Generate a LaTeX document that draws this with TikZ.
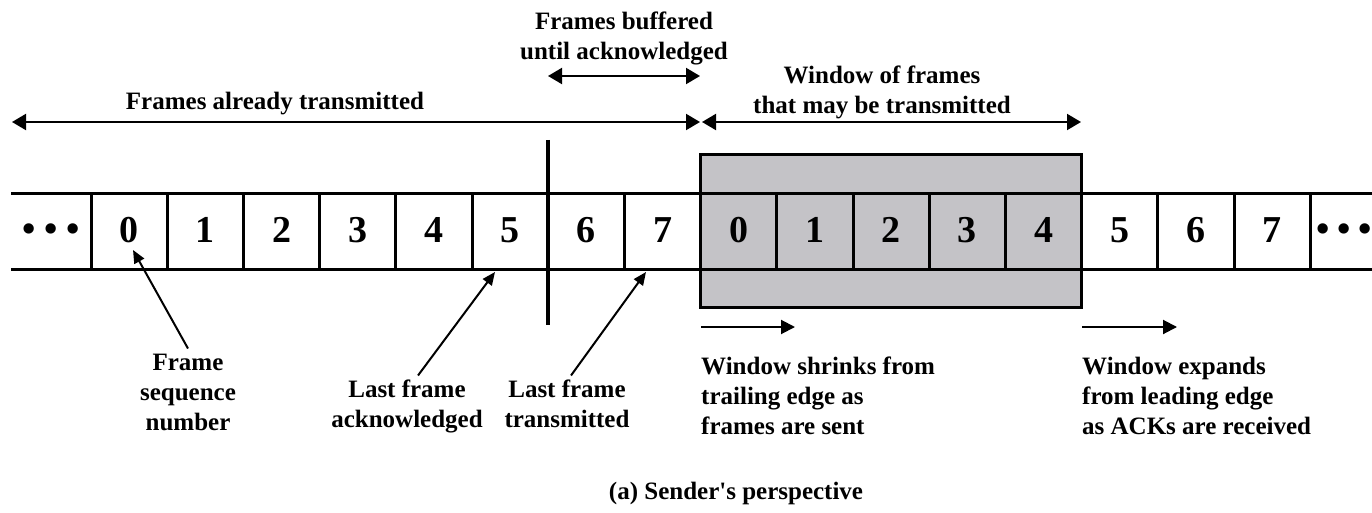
\documentclass[tikz,border=0pt]{standalone}
\usepackage{fontspec}
\setmainfont{Liberation Serif}[Ligatures=TeXOff]
\usetikzlibrary{arrows.meta}
\definecolor{wingray}{RGB}{196,195,199}
\begin{document}
\begin{tikzpicture}[x=1pt,y=-1pt,
  lbl/.style={font=\bfseries\fontsize{25}{30}\selectfont, inner sep=0pt},
  num/.style={font=\bfseries\fontsize{38}{40}\selectfont, inner sep=0pt},
  spanarrow/.style={line width=2pt, {Triangle[length=14pt,width=16pt]}-{Triangle[length=14pt,width=16pt]}},
  fwdarrow/.style={line width=2pt, -{Triangle[length=14pt,width=14pt]}},
  ptr/.style={line width=2pt, -{Triangle[length=13pt,width=11pt]}},
  tape/.style={line width=3pt},
  winbox/.style={line width=3pt, fill=wingray}
]
\useasboundingbox (0,0) rectangle (1372,513);

% window box
\draw[winbox] (700,155) rectangle (1081,307);

% tape
\coordinate (tl) at (11,193);
\coordinate (tr) at (1372,193);
\coordinate (bl) at (11,269);
\coordinate (br) at (1372,269);
\draw[tape] (tl) -- (tr);
\draw[tape] (bl) -- (br);
\foreach \k in {0,...,16}{
  \draw[tape] ({91+76.2*\k},193) -- ({91+76.2*\k},269);
}
\foreach \k/\d in {0/0,1/1,2/2,3/3,4/4,5/5,6/6,7/7,8/0,9/1,10/2,11/3,12/4,13/5,14/6,15/7}{
  \node[num] (c\k) at ({91+76.2*(\k+0.5)},230) {\d};
}
\node[num] (dl) at (51,233) {•\kern9pt•\kern9pt•};
\node[num, anchor=west] (dr) at (1316,233) {•\kern8pt•\kern8pt•};

% separator
\coordinate (s1) at (548,140);
\coordinate (s2) at (548,325);
\draw[line width=4pt] (s1) -- (s2);

% top spans
\coordinate (a1) at (12,122);
\coordinate (a2) at (700,122);
\coordinate (w1) at (702,122);
\coordinate (w2) at (1081,122);
\coordinate (b1) at (548,76);
\coordinate (b2) at (700,76);
\draw[spanarrow] (a1) -- (a2);
\draw[spanarrow] (w1) -- (w2);
\draw[spanarrow] (b1) -- (b2);
\node[lbl] (fat) at (275,104) {Frames already transmitted};
\node[lbl, align=center, anchor=north] (fb) at (624,11.5) {Frames buffered\\until acknowledged};
\node[lbl, align=center, anchor=north] (wf) at (882,66) {Window of frames\\that may be transmitted};

% window motion arrows
\coordinate (sh1) at (701,327);
\coordinate (sh2) at (795,327);
\coordinate (ex1) at (1082,327);
\coordinate (ex2) at (1177,327);
\draw[fwdarrow] (sh1) -- (sh2);
\draw[fwdarrow] (ex1) -- (ex2);
\node[lbl, align=left, anchor=north west] (ws) at (701,356.5) {Window shrinks from\\trailing edge as\\frames are sent};
\node[lbl, align=left, anchor=north west] (we) at (1082,356.5) {Window expands\\from leading edge\\as ACKs are received};

% pointer labels
\node[lbl, align=center, anchor=north] (fs) at (188,353.5) {Frame\\sequence\\number};
\node[lbl, align=center, anchor=north] (la) at (407,379.5) {Last frame\\acknowledged};
\node[lbl, align=center, anchor=north] (lt) at (567,379.5) {Last frame\\transmitted};
\coordinate (t0) at (133,250);
\coordinate (t5) at (495,272);
\coordinate (t7) at (646,272);
\draw[ptr] ([yshift=5pt]fs.north) -- (t0);
\draw[ptr] ([xshift=11pt,yshift=4pt]la.north) -- (t5);
\draw[ptr] ([xshift=4pt,yshift=4pt]lt.north) -- (t7);

% caption
\node[lbl] (cap) at (736,493) {(a) Sender's perspective};
\end{tikzpicture}
\end{document}
